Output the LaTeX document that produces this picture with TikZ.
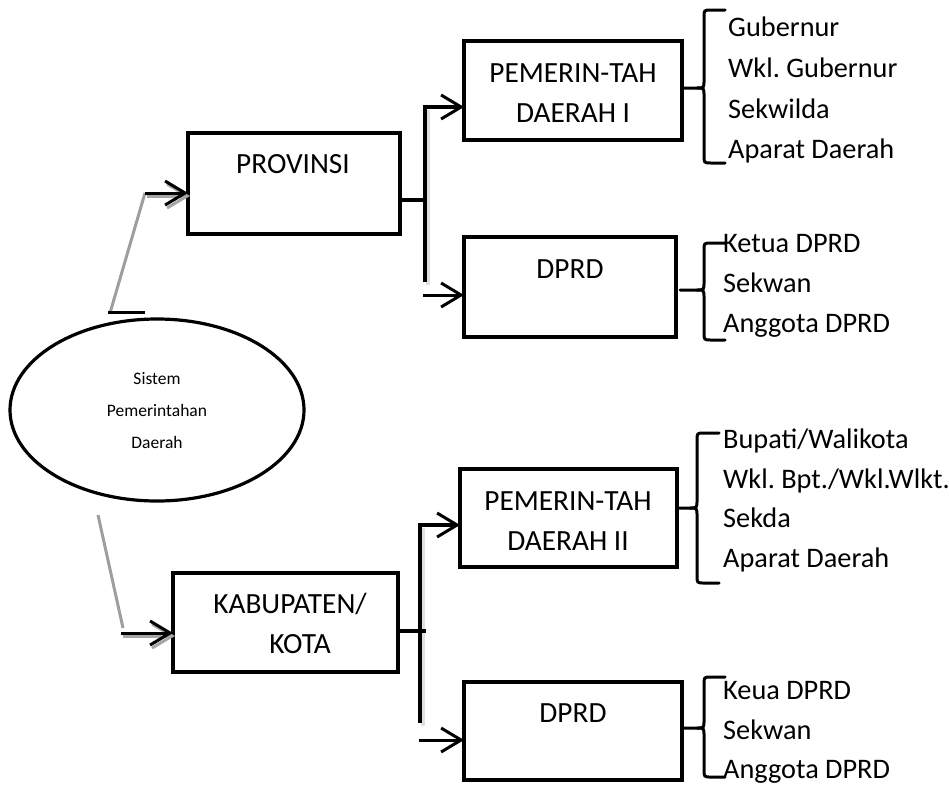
\documentclass[tikz,border=0pt]{standalone}
\usepackage{fontspec}
\setmainfont{Carlito}
\usetikzlibrary{arrows.meta,shapes.geometric}
\frenchspacing

% curly brace: #1 spine x, #2 top y, #3 middle y, #4 bottom y, #5 hook end x, #6 tip x
\newcommand\drawbrace[6]{%
  \draw[bracepath] (#5,#2) -- ({#1+7},#2) .. controls (#1,#2) .. (#1,{#2+8})
    -- (#1,{#3-8}) .. controls (#1,#3) .. ({#1-7},#3) -- (#6,#3);
  \draw[bracepath] (#5,#4) -- ({#1+7},#4) .. controls (#1,#4) .. (#1,{#4-8})
    -- (#1,{#3+8}) .. controls (#1,#3) .. ({#1-7},#3);
}

\begin{document}
\begin{tikzpicture}[x=1pt,y=-1pt,
  box/.style={draw, line width=3.2pt, inner sep=0pt, outer sep=0pt},
  oval/.style={draw, ellipse, line width=3.2pt, inner sep=0pt, outer sep=0pt},
  lbl/.style={anchor=base, inner sep=0pt, font=\fontsize{29.3}{40}\selectfont},
  item/.style={anchor=base west, inner sep=0pt, font=\fontsize{28.3}{40}\selectfont},
  small/.style={anchor=base, inner sep=0pt, font=\fontsize{17.5}{32}\selectfont},
  barb/.style={-{Straight Barb[length=20pt,width=24pt,line width=3pt]}},
  feed/.style={line width=3pt, barb},
  trunk/.style={line width=4pt},
  softshade/.style={line width=4pt, black!12, transform canvas={xshift=3pt,yshift=-3pt}},
  dropshade/.style={line width=3pt, black!35, barb, transform canvas={xshift=2pt,yshift=-3pt}},
  greyline/.style={line width=3pt, black!38},
  bracepath/.style={line width=3pt, line cap=round}
]
\useasboundingbox (0,0) rectangle (949,787);

% root
\node[oval, minimum width=294pt, minimum height=182pt] (sys) at (157,410) {};
\node[small] (sys1) at (157,384) {Sistem};
\node[small] (sys2) at (157,416) {Pemerintahan};
\node[small] (sys3) at (157,448) {Daerah};

% level 1
\node[box, minimum width=212pt, minimum height=101pt] (prov) at (294,183.5) {};
\node[lbl] (provt) at (293,173) {PROVINSI};
\node[box, minimum width=225pt, minimum height=99pt] (kab) at (285.5,622.5) {};
\node[lbl] (kabt1) at (290,613) {KABUPATEN/};
\node[lbl] (kabt2) at (300,653) {KOTA};

% level 2
\node[box, minimum width=218pt, minimum height=99pt] (pem1) at (573,90.5) {};
\node[lbl] (pem1a) at (573,82) {PEMERIN-TAH};
\node[lbl] (pem1b) at (573,122) {DAERAH I};
\node[box, minimum width=212pt, minimum height=100pt] (dprd1) at (570,287) {};
\node[lbl] (dprd1t) at (570,278) {DPRD};
\node[box, minimum width=217pt, minimum height=98pt] (pem2) at (568.5,518) {};
\node[lbl] (pem2a) at (568,510) {PEMERIN-TAH};
\node[lbl] (pem2b) at (568,550) {DAERAH II};
\node[box, minimum width=218pt, minimum height=98pt] (dprd2) at (573,731) {};
\node[lbl] (dprd2t) at (573,722) {DPRD};

% root to level 1
\coordinate (a1) at (110,313);
\coordinate (a2) at (145,193);
\draw[greyline] (a1) -- (a2);
\draw[line width=3pt] (108,312) -- (145,312);
\draw[dropshade] (a2) -- (a2 -| prov.west);
\draw[feed] (a2) -- (a2 -| prov.west);

\coordinate (b1) at (98,515);
\coordinate (b2) at (123,628);
\coordinate (b3) at (121,633);
\draw[greyline] (b1) -- (b2);
\draw[dropshade] (b3) -- (b3 -| kab.west);
\draw[feed] (b3) -- (b3 -| kab.west);

% province branch
\coordinate (j1) at (425,200);
\coordinate (v1t) at (425,107);
\coordinate (v1b) at (425,282);
\coordinate (d1) at (423,295);
\draw[softshade] (v1t) -- (v1b);
\draw[line width=4.5pt] (j1 -| prov.east) -- (j1);
\draw[trunk, barb] (v1b) -- (v1t) -- (v1t -| pem1.west);
\draw[feed] (d1) -- (d1 -| dprd1.west);

% regency branch
\coordinate (j2) at (426,631);
\coordinate (v2t) at (420,525);
\coordinate (v2b) at (420,723);
\coordinate (d2) at (419,740);
\draw[softshade] (v2t) -- (v2b);
\draw[line width=3.5pt] (j2 -| kab.east) -- (j2);
\draw[trunk, barb] (v2b) -- (v2t) -- (v2t -| pem2.west);
\draw[feed] (d2) -- (d2 -| dprd2.west);

% member lists
\drawbrace{704}{10}{88}{163}{725}{682}
\node[item] (g1) at (728,36) {Gubernur};
\node[item] (g2) at (728,77) {Wkl. Gubernur};
\node[item] (g3) at (728,118) {Sekwilda};
\node[item] (g4) at (728,158) {Aparat Daerah};

\drawbrace{704}{243}{290}{340}{725}{680}
\node[item] (h1) at (723,252) {Ketua DPRD};
\node[item] (h2) at (723,292) {Sekwan};
\node[item] (h3) at (723,332) {Anggota DPRD};

\drawbrace{697}{433}{508}{583}{719}{677}
\node[item] (k1) at (723,448) {Bupati/Walikota};
\node[item] (k2) at (723,488) {Wkl. Bpt./Wkl.Wlkt.};
\node[item] (k3) at (723,527) {Sekda};
\node[item] (k4) at (723,567) {Aparat Daerah};

\drawbrace{704}{677}{728}{777}{725}{682}
\node[item] (m1) at (723,699) {Keua DPRD};
\node[item] (m2) at (723,739) {Sekwan};
\node[item] (m3) at (723,778) {Anggota DPRD};
\end{tikzpicture}
\end{document}
